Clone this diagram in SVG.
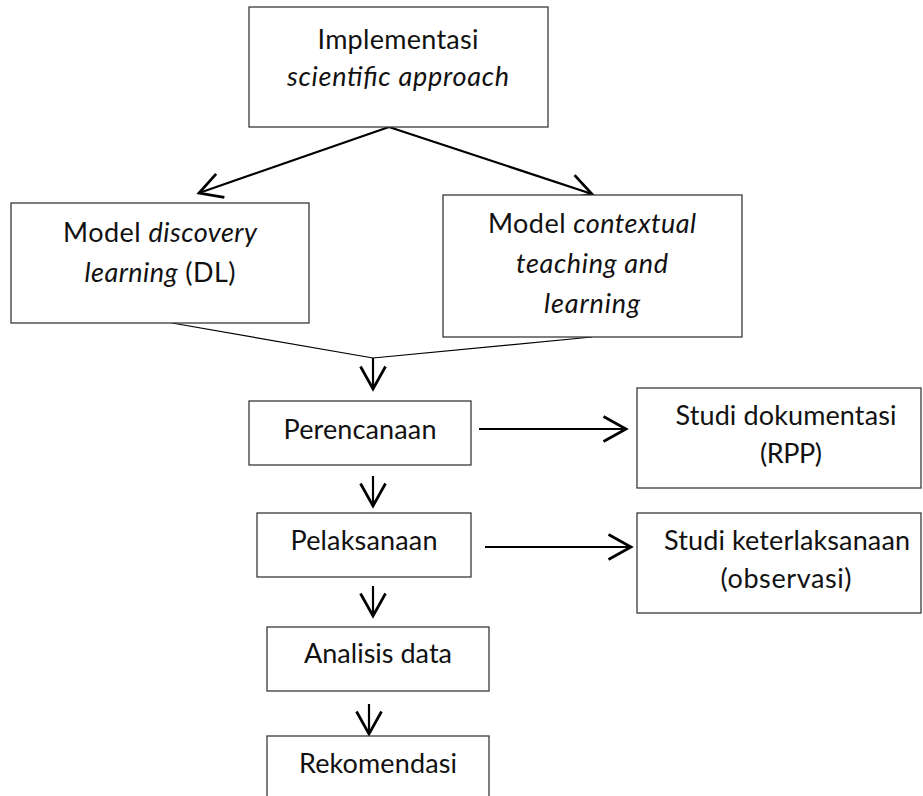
<svg xmlns="http://www.w3.org/2000/svg" width="923" height="796" viewBox="0 0 923 796">
<style>
  .box { fill: #ffffff; stroke: #3a3a3a; stroke-width: 1.3; }
  .t { font-family: Lato, "Open Sans", "Liberation Sans", sans-serif; font-size: 27px; fill: #111111; text-anchor: middle; }
  .i { font-style: italic; }
  .arr { stroke: #000000; stroke-width: 2.2; fill: none; marker-end: url(#chev); }
  .thin { stroke: #000000; stroke-width: 1.2; fill: none; }
</style>
<defs>
  <marker id="chev" markerUnits="userSpaceOnUse" markerWidth="30" markerHeight="30" viewBox="-20 -12 22 24" refX="0" refY="0" orient="auto" overflow="visible">
    <path d="M -18 -10 L 0 0 L -18 10" fill="none" stroke="#000000" stroke-width="2.2" stroke-linejoin="miter"/>
  </marker>
</defs>
<rect width="923" height="796" fill="#ffffff"/>

<g id="connectors">
  <line class="arr" x1="389" y1="127" x2="199" y2="193"/>
  <line class="arr" x1="389" y1="127" x2="592" y2="194"/>
  <line class="thin" x1="172" y1="323" x2="373" y2="358"/>
  <line class="thin" x1="592" y1="337" x2="373" y2="358"/>
  <line class="arr" x1="373" y1="358" x2="373" y2="389"/>
  <line class="arr" x1="479" y1="429" x2="626" y2="429"/>
  <line class="arr" x1="373" y1="476" x2="373" y2="506"/>
  <line class="arr" x1="485" y1="547" x2="631" y2="547"/>
  <line class="arr" x1="373" y1="586" x2="373" y2="616"/>
  <line class="arr" x1="369" y1="704" x2="369" y2="734"/>
</g>

<g id="node-implementasi">
  <rect class="box" x="249" y="7" width="299" height="120"/>
  <text class="t" x="398" y="49" textLength="161">Implementasi</text>
  <text class="t i" x="398" y="86" textLength="222">scientific approach</text>
</g>

<g id="node-dl">
  <rect class="box" x="11" y="203" width="298" height="120"/>
  <text class="t" x="160" y="242" textLength="194">Model <tspan class="i">discovery</tspan></text>
  <text class="t" x="160" y="282" textLength="151"><tspan class="i">learning</tspan> (DL)</text>
</g>

<g id="node-ctl">
  <rect class="box" x="443" y="195" width="299" height="142"/>
  <text class="t" x="592" y="233" textLength="208">Model <tspan class="i">contextual</tspan></text>
  <text class="t i" x="592" y="273" textLength="152">teaching and</text>
  <text class="t i" x="592" y="313" textLength="96">learning</text>
</g>

<g id="node-perencanaan">
  <rect class="box" x="249" y="401" width="222" height="64"/>
  <text class="t" x="360" y="439" textLength="153">Perencanaan</text>
</g>

<g id="node-studi-dok">
  <rect class="box" x="637" y="388" width="284" height="100"/>
  <text class="t" x="786" y="425" textLength="221">Studi dokumentasi</text>
  <text class="t" x="791" y="463" textLength="62">(RPP)</text>
</g>

<g id="node-pelaksanaan">
  <rect class="box" x="257" y="513" width="214" height="64"/>
  <text class="t" x="364" y="550" textLength="147">Pelaksanaan</text>
</g>

<g id="node-studi-ket">
  <rect class="box" x="637" y="513" width="284" height="100"/>
  <text class="t" x="787" y="550" textLength="246">Studi keterlaksanaan</text>
  <text class="t" x="786" y="588" textLength="131">(observasi)</text>
</g>

<g id="node-analisis">
  <rect class="box" x="267" y="627" width="222" height="64"/>
  <text class="t" x="378" y="663" textLength="148">Analisis data</text>
</g>

<g id="node-rekomendasi">
  <rect class="box" x="267" y="736" width="222" height="80"/>
  <text class="t" x="378" y="773" textLength="158">Rekomendasi</text>
</g>
</svg>
